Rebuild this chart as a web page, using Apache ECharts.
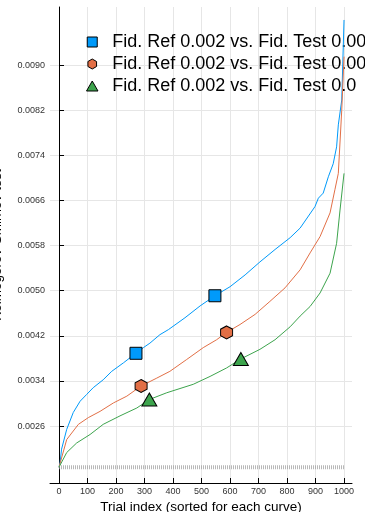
<!DOCTYPE html>
<html><head><meta charset="utf-8">
<script src="https://cdn.jsdelivr.net/npm/echarts@6/dist/echarts.min.js"></script>
<style>html,body{margin:0;padding:0;background:#fff}#c{width:365px;height:512px}</style>
</head><body><div id="c"></div>
<script>
const seriesNames = ['Fid. Ref 0.002 vs. Fid. Test 0.00', 'Fid. Ref 0.002 vs. Fid. Test 0.00 ', 'Fid. Ref 0.002 vs. Fid. Test 0.0'];
const xTicks = [0,100,200,300,400,500,600,700,800,900,1000];
const yTicks = [0.0026,0.0034,0.0042,0.0050,0.0058,0.0066,0.0074,0.0082,0.0090];

const blueX = [0,4,9,27,50,74,97,120,155,185,226,249,270,296,319,354,384,442,495,547,600,653,705,758,811,846,898,910,927,945,962,974,980,992,1000];
const blueY = [0.00187,0.00196,0.00219,0.00254,0.00284,0.00304,0.00316,0.00328,0.00342,0.00357,0.00372,0.00381,0.00389,0.00399,0.00407,0.00422,0.00431,0.00452,0.00473,0.00491,0.00507,0.00528,0.00551,0.00573,0.00594,0.00611,0.00649,0.00664,0.00673,0.00702,0.00725,0.00755,0.00794,0.00838,0.00980];

const orangeX = [0,4,27,68,103,144,191,238,288,343,389,448,506,553,588,635,688,740,793,846,881,916,951,968,980,992,1000];
const orangeY = [0.00187,0.00189,0.00236,0.00263,0.00275,0.00286,0.00301,0.00313,0.00331,0.00345,0.00357,0.00378,0.00399,0.00413,0.00426,0.00440,0.00458,0.00481,0.00505,0.00537,0.00567,0.00596,0.00638,0.00679,0.00708,0.00820,0.00915];

const greenX = [0,4,27,62,109,155,214,273,317,378,471,530,588,638,705,758,811,846,881,916,951,974,986,1000];
const greenY = [0.00187,0.00189,0.00213,0.00230,0.00245,0.00263,0.00278,0.00292,0.00307,0.00319,0.00334,0.00348,0.00363,0.00379,0.00396,0.00413,0.00436,0.00455,0.00472,0.00496,0.00531,0.00584,0.00643,0.00708];

const blueMarkX = [270,547];   const blueMarkY = [0.00389,0.00491];
const orangeMarkX = [288,588]; const orangeMarkY = [0.00331,0.00426];
const greenMarkX = [317,638];  const greenMarkY = [0.00307,0.00379];

const baseX = [0,1000]; const baseY = [0.00187,0.00187];

const colors = ['#009AFA','#E26F46','#3DA44D'];
const hexagon = 'path://M50,0 L93.3,25 L93.3,75 L50,100 L6.7,75 L6.7,25 Z';
const square = 'path://M0,0 L10,0 L10,10 L0,10 Z';
const triangle = 'path://M50,0 L100,87 L0,87 Z';
const zip = (xs, ys) => xs.map((x, i) => [x, ys[i]]);

const chart = echarts.init(document.getElementById('c'), null, {renderer:'canvas'});
const font = 'Liberation Sans, Arial, sans-serif';

function lineSeries(name, xs, ys, color) {
  return {type:'line', name, data: zip(xs, ys), showSymbol:false, symbol:'none',
    lineStyle:{color, width:1}, itemStyle:{color}, z:2, silent:true};
}
function markSeries(name, xs, ys, color, symbol, size) {
  return {type:'scatter', name, data: zip(xs, ys), symbol, symbolSize:size, symbolKeepAspect:false,
    itemStyle:{color, borderColor:'#000', borderWidth:1, opacity:1}, z:3, silent:true};
}

chart.setOption({
  animation:false,
  backgroundColor:'#fff',
  grid:{left:50, right:13, top:7, bottom:29, containLabel:false, outerBoundsMode:'none'},
  legend:{
    orient:'vertical', left:86, top:33, padding:0, itemGap:4, itemWidth:30, itemHeight:10,
    z:1, selectedMode:false, symbolKeepAspect:true,
    textStyle:{fontSize:18, color:'#000', fontFamily:font},
    data:[
      {name:seriesNames[0], icon:square, itemStyle:{color:colors[0], borderColor:'#000', borderWidth:1}},
      {name:seriesNames[1], icon:hexagon, itemStyle:{color:colors[1], borderColor:'#000', borderWidth:1}},
      {name:seriesNames[2], icon:triangle, itemStyle:{color:colors[2], borderColor:'#000', borderWidth:1}}
    ]
  },
  xAxis:{
    type:'value', min:-31.6, max:1028,
    name:'Trial index (sorted for each curve)', nameLocation:'middle', nameGap:17, nameMoveOverlap:false,
    nameTextStyle:{fontSize:13.5, color:'#000', fontFamily:font},
    axisLine:{show:true, lineStyle:{color:'#000', width:1}},
    axisTick:{show:true, inside:true, length:5, lineStyle:{color:'#000'}, customValues:xTicks},
    axisLabel:{fontSize:9, color:'#333', fontFamily:font, margin:4, customValues:xTicks,
      formatter:v => String(v)},
    splitLine:{show:true, lineStyle:{color:'#e6e6e6', width:1}}
  },
  yAxis:{
    type:'value', min:0.00159, max:0.01003,
    name:'Kolmogorov-Smirnov test', nameLocation:'middle', nameGap:46, nameMoveOverlap:false,
    nameTextStyle:{fontSize:13.5, color:'#000', fontFamily:font},
    axisLine:{show:true, lineStyle:{color:'#000', width:1}},
    axisTick:{show:true, inside:true, length:5, lineStyle:{color:'#000'}, customValues:yTicks},
    axisLabel:{fontSize:9, color:'#333', fontFamily:font, margin:5, customValues:yTicks,
      formatter:v => v.toFixed(4)},
    splitLine:{show:true, lineStyle:{color:'#e6e6e6', width:1}}
  },
  series:[
    {type:'line', name:'baseline', data: zip(baseX, baseY), showSymbol:false, symbol:'none', silent:true,
      lineStyle:{color:'#9a9a9a', width:4, type:[1,1], opacity:0.7}, z:1},
    lineSeries(seriesNames[0], blueX, blueY, colors[0]),
    markSeries(seriesNames[0], blueMarkX, blueMarkY, colors[0], 'rect', 12),
    lineSeries(seriesNames[1], orangeX, orangeY, colors[1]),
    markSeries(seriesNames[1], orangeMarkX, orangeMarkY, colors[1], hexagon, [12,13]),
    lineSeries(seriesNames[2], greenX, greenY, colors[2]),
    markSeries(seriesNames[2], greenMarkX, greenMarkY, colors[2], 'triangle', [15,13])
  ]
});
</script></body></html>
